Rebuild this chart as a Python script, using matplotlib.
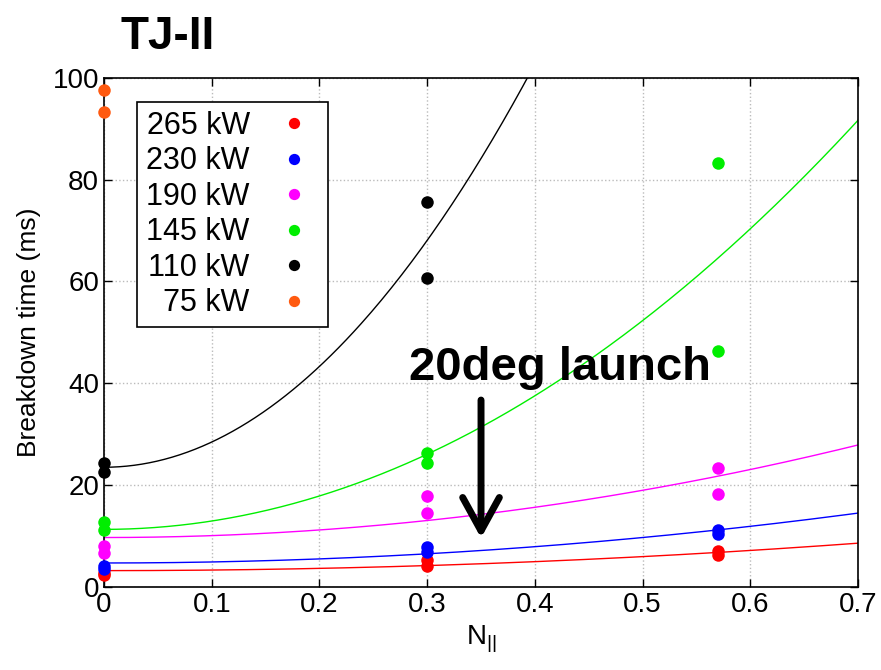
import numpy as np
import matplotlib
matplotlib.use('Agg')
import matplotlib.pyplot as plt

plt.rcParams['font.family'] = ['Liberation Sans', 'DejaVu Sans']
plt.rcParams['mathtext.fontset'] = 'custom'
plt.rcParams['mathtext.rm'] = 'Liberation Sans'

# power levels, colors, measured points (N_par, time in ms)
labels = ['265 kW', '230 kW', '190 kW', '145 kW', '110 kW', '  75 kW']
colors = ['#ff0000', '#0000ff', '#ff00ff', '#00ee00', '#000000', '#ff5a10']

x_265 = [0, 0, 0.3, 0.3, 0.57, 0.57]
y_265 = [2.7, 2.3, 5.3, 4.1, 7.1, 6.3]
x_230 = [0, 0, 0.3, 0.3, 0.57, 0.57]
y_230 = [4.1, 3.5, 7.9, 6.9, 11.1, 10.4]
x_190 = [0, 0, 0.3, 0.3, 0.57, 0.57]
y_190 = [8.1, 6.7, 17.9, 14.6, 23.4, 18.3]
x_145 = [0, 0, 0.3, 0.3, 0.57, 0.57]
y_145 = [12.8, 11.1, 26.3, 24.3, 83.3, 46.4]
x_110 = [0, 0, 0.3, 0.3]
y_110 = [24.4, 22.5, 75.6, 60.6]
x_75 = [0, 0]
y_75 = [97.6, 93.3]

# fitted curves t = a + c*N^2 (no fit for 75 kW)
fit_a = [3.2, 4.7, 9.7, 11.3, 23.5]
fit_c = [11.0, 20.0, 37.1, 164.0, 495.0]

xs = [x_265, x_230, x_190, x_145, x_110, x_75]
ys = [y_265, y_230, y_190, y_145, y_110, y_75]

fig = plt.figure(figsize=(8.81, 6.70), dpi=100)
ax = fig.add_axes([0.118, 0.124, 0.856, 0.760])

n = np.linspace(0, 0.7, 300)
for a, c, col in zip(fit_a, fit_c, colors):
    ax.plot(n, a + c * n**2, color=col, lw=1.0, zorder=2)

for x, y, col, lab in zip(xs, ys, colors, labels):
    ax.plot(x, y, 'o', color=col, ms=9, mec='none', label=lab,
            clip_on=False, zorder=3)

ax.set_xlim(0, 0.7)
ax.set_ylim(0, 100)
ax.set_xticks(np.arange(0, 0.71, 0.1))
ax.set_xticklabels(['0', '0.1', '0.2', '0.3', '0.4', '0.5', '0.6', '0.7'])
ax.set_yticks([0, 20, 40, 60, 80, 100])
ax.tick_params(direction='in', top=True, right=True, labelsize=20,
               length=6, width=1)
ax.grid(True, color='#bbbbbb', linestyle=':', linewidth=1)
for s in ax.spines.values():
    s.set_linewidth(1.2)

ax.set_xlabel(r'N$_{||}$', fontsize=20)
ax.set_ylabel('Breakdown time (ms)', fontsize=19, labelpad=8)

leg = ax.legend(loc='upper left', bbox_to_anchor=(0.044, 0.953),
                borderaxespad=0, markerfirst=False, fontsize=22,
                fancybox=False, edgecolor='black', framealpha=1,
                handlelength=1.6, handletextpad=0.65, labelspacing=0.18,
                borderpad=0.3, markerscale=0.9)
leg.get_frame().set_linewidth(1.2)

ax.annotate('', xy=(0.35, 9.6), xytext=(0.35, 36.7),
            arrowprops=dict(arrowstyle='->,head_length=0.6,head_width=0.33',
                            lw=5, color='black', shrinkA=0, shrinkB=0,
                            mutation_scale=40))
ax.text(0.423, 43, '20deg launch', fontsize=34, fontweight='bold',
        ha='center', va='center')

fig.text(0.19, 0.945, 'TJ-II', fontsize=33, fontweight='bold',
         ha='center', va='center')

plt.savefig('out.png', dpi=100)
